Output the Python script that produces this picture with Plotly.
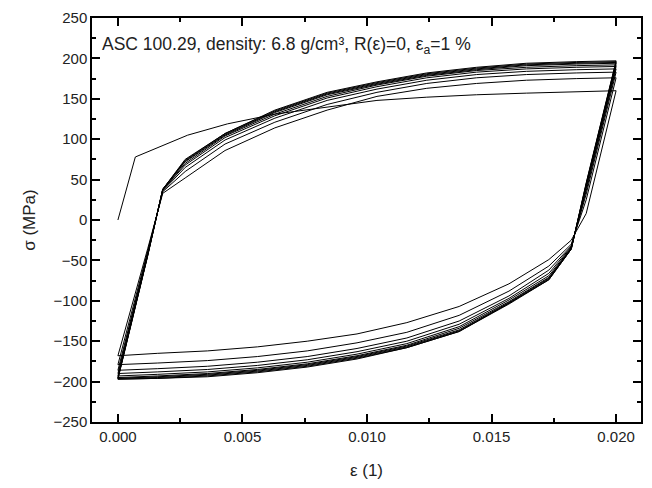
import plotly.graph_objects as go

# ---- data ----
# strain grid of the loading branches (epsilon increasing)
eps_load = [0, 0.0012, 0.0018, 0.0027, 0.0043, 0.0063, 0.0084, 0.0104, 0.0124, 0.0144, 0.0164, 0.0184, 0.0200]
# strain grid of the unloading branches (epsilon decreasing)
eps_unload = [0.0200, 0.0188, 0.0182, 0.0173, 0.0157, 0.0137, 0.0116, 0.0096, 0.0076, 0.0056, 0.0036, 0.0016, 0]

# first (monotonic) loading
eps_initial = [0, 0.0007, 0.0028, 0.0044, 0.0063, 0.0084, 0.0104, 0.0124, 0.0144, 0.0164, 0.0184, 0.0200]
sig_initial = [0, 78, 105, 119, 131, 140, 148, 152, 155, 157, 159, 160]

# unloading branches, cycle 1..10 (MPa)
unload_1 = [160, 8, -25, -49, -79, -107, -127, -141, -150, -157, -162, -165, -168]
unload_2 = [176, 25, -30, -57, -88, -118, -139, -152, -162, -169, -174, -177, -179]
unload_3 = [183, 32, -32, -62, -94, -125, -146, -159, -169, -176, -181, -184, -186]
unload_4 = [187, 36, -33, -66, -97, -129, -150, -163, -173, -180, -185, -188, -190]
unload_5 = [190, 39, -34, -69, -99, -132, -153, -166, -176, -183, -188, -191, -193]
unload_6 = [192, 41, -35, -71, -101, -134, -155, -168, -178, -185, -190, -193, -195]
unload_7 = [194, 43, -35, -72, -102, -136, -156, -169, -179, -186, -191, -194, -196]
unload_8 = [195, 44, -36, -73, -103, -137, -157, -170, -180, -187, -192, -195, -196]
unload_9 = [196, 45, -36, -74, -103, -138, -158, -171, -181, -188, -193, -196, -197]
unload_10 = [197, 46, -36, -74, -104, -138, -158, -172, -182, -189, -194, -196, -197]

# reloading branches, cycle 1..9 (MPa)
load_1 = [-168, -35, 33, 52, 86, 114, 136, 153, 163, 169, 173, 175, 176]
load_2 = [-179, -38, 35, 60, 94, 121, 143, 158, 169, 176, 180, 182, 183]
load_3 = [-186, -40, 36, 65, 99, 126, 148, 162, 173, 180, 184, 186, 187]
load_4 = [-190, -41, 37, 68, 102, 129, 151, 165, 176, 183, 187, 189, 190]
load_5 = [-193, -42, 37, 70, 104, 131, 153, 167, 178, 185, 189, 191, 192]
load_6 = [-195, -43, 38, 72, 105, 133, 155, 168, 179, 186, 191, 193, 194]
load_7 = [-196, -43, 38, 73, 106, 134, 156, 169, 180, 187, 192, 194, 195]
load_8 = [-196, -43, 38, 74, 107, 135, 157, 170, 181, 188, 193, 195, 196]
load_9 = [-197, -44, 38, 75, 107, 136, 158, 171, 182, 189, 194, 196, 197]

unloads = [unload_1, unload_2, unload_3, unload_4, unload_5, unload_6, unload_7, unload_8, unload_9, unload_10]
loads = [load_1, load_2, load_3, load_4, load_5, load_6, load_7, load_8, load_9]

x_tick_vals = [0.000, 0.005, 0.010, 0.015, 0.020]
x_tick_text = ["0.000", "0.005", "0.010", "0.015", "0.020"]
y_tick_vals = [250, 200, 150, 100, 50, 0, -50, -100, -150, -200, -250]

# ---- build the continuous strain path ----
xs = list(eps_initial)
ys = list(sig_initial)
for i, u in enumerate(unloads):
    xs += eps_unload[1:]
    ys += u[1:]
    if i < len(loads):
        xs += eps_load[1:]
        ys += loads[i][1:]

fig = go.Figure()
fig.add_trace(go.Scatter(x=xs, y=ys, mode="lines",
                         line=dict(color="black", width=1), showlegend=False))

font_family = "Liberation Sans, Arial, sans-serif"
axis_common = dict(showline=True, linecolor="black", linewidth=1.5, mirror="allticks",
                   ticks="inside", ticklen=8, tickwidth=1.5, tickcolor="black",
                   showgrid=False, zeroline=False,
                   tickfont=dict(family=font_family, size=15, color="#222"))

fig.update_xaxes(range=[-0.00104, 0.021], tickvals=x_tick_vals, ticktext=x_tick_text,
                 minor=dict(ticks="inside", ticklen=4, tickwidth=1.5, tickcolor="black", dtick=0.0025),
                 title=dict(text="ε (1)", font=dict(family=font_family, size=17, color="#222"), standoff=20),
                 **axis_common)
fig.update_yaxes(range=[-250, 250], tickvals=y_tick_vals,
                 minor=dict(ticks="inside", ticklen=4, tickwidth=1.5, tickcolor="black", dtick=25),
                 title=dict(text="σ (MPa)", font=dict(family=font_family, size=17, color="#222"), standoff=14),
                 **axis_common)

fig.add_annotation(xref="paper", yref="paper", x=0.0145, y=0.931, xanchor="left", yanchor="middle",
                   text="ASC 100.29, density: 6.8 g/cm³, R(ε)=0, ε<sub>a</sub>=1 %",
                   showarrow=False, font=dict(family=font_family, size=17.5, color="#222"))

fig.update_layout(width=652, height=488, margin=dict(l=92, r=9, t=14, b=66),
                  paper_bgcolor="white", plot_bgcolor="white")

fig.write_html("out.html")
